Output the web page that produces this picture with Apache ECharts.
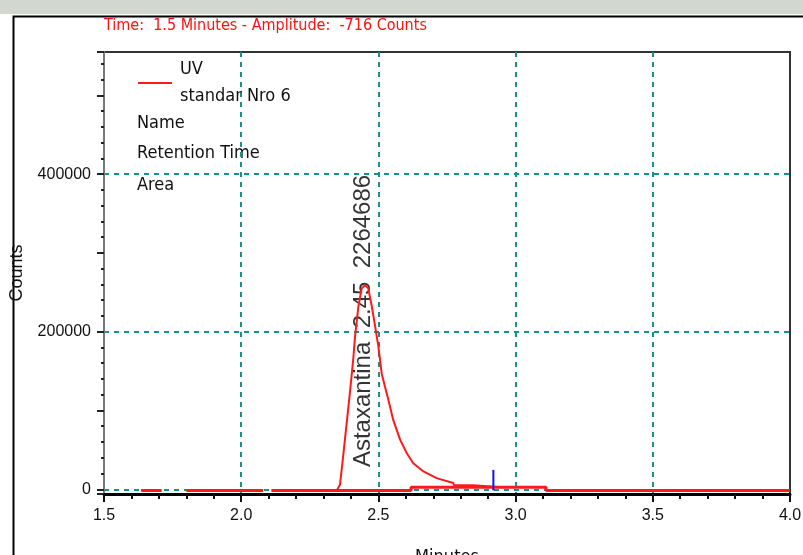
<!DOCTYPE html>
<html>
<head>
<meta charset="utf-8">
<script src="https://cdn.jsdelivr.net/npm/echarts@6/dist/echarts.min.js"></script>
<style>
  html, body { margin: 0; padding: 0; background: #fff; }
  #chart { width: 803px; height: 555px; }
</style>
</head>
<body>
<div id="chart"></div>
<script>
// minutes / counts
const baselineTrace = [
  [1.635, -1500], [1.71, -1500], [1.71, '-'],
  [1.80, -1500], [2.08, -1500], [2.08, '-'],
  [2.11, -1500], [2.619, -1500], [2.619, 2500], [3.111, 2500], [3.111, -1500], [4.0, -1500]
];
const peakTrace = [
  [2.348, -1500], [2.36, 5700], [2.37, 37000], [2.378, 63000], [2.396, 122000],
  [2.408, 164000], [2.415, 194000], [2.427, 232000], [2.439, 255000], [2.451, 259000],
  [2.463, 255000], [2.476, 232000], [2.488, 207000], [2.50, 181000], [2.512, 147000],
  [2.524, 130000], [2.536, 114000], [2.554, 88000], [2.579, 63000], [2.603, 46000],
  [2.627, 33000], [2.664, 22600], [2.712, 14200], [2.773, 7900], [2.775, 5200],
  [2.845, 5000], [2.85, 3000], [2.95, 2500]
];
const markerLine = [[2.919, -1500], [2.919, 24600]];
const peakLabel = [[2.444, 213600]];
const peakText = 'Astaxantina  2.45  2264686';
const legendLines = ['UV', 'standar Nro 6'];
const infoLines = ['Name', 'Retention Time', 'Area'];
const headerText = 'Time:  1.5 Minutes - Amplitude:  -716 Counts';

const narrow = "'Liberation Sans Narrow', 'Arial Narrow', 'DejaVu Sans Condensed', sans-serif";
const plain = "'Liberation Sans', Arial, sans-serif";
const teal = '#17918f';

const chart = echarts.init(document.getElementById('chart'));

const option = {
  backgroundColor: '#fff',
  animation: false,
  title: {
    text: headerText,
    left: 99, top: 13,
    textStyle: { color: '#ff1010', fontSize: 16, fontWeight: 'normal', fontFamily: narrow }
  },
  legend: {
    data: ['UV'],
    left: 138, top: 56,
    padding: 0,
    selectedMode: false,
    icon: 'rect',
    itemWidth: 34, itemHeight: 2,
    itemGap: 0,
    formatter: () => legendLines.join('\n'),
    textStyle: { fontSize: 18, lineHeight: 27, color: '#111', fontFamily: narrow, padding: [0, 0, 0, 3] }
  },
  graphic: [
    { type: 'rect', left: 0, top: 0, shape: { width: 803, height: 14 }, style: { fill: '#d2d8cf' }, z: -10 },
    { type: 'rect', left: 11, top: 14, shape: { x: 0, y: 0, width: 800, height: 600 },
      style: { fill: 'none', stroke: '#000', lineWidth: 2 }, z: -5 }
  ].concat(infoLines.map((t, i) => ({
    type: 'text', left: 137, top: [114, 144, 176][i],
    style: { text: t, fontSize: 18, fill: '#111', fontFamily: narrow }
  }))),
  grid: {
    left: 104, right: 13, top: 52, bottom: 61,
    outerBoundsMode: 'none', containLabel: false,
    show: true, borderColor: '#333', borderWidth: 2
  },
  xAxis: {
    type: 'value',
    min: 1.5, max: 4.0, interval: 0.5,
    name: 'Minutes', nameLocation: 'middle', nameGap: 54,
    nameTextStyle: { fontSize: 18, color: '#111', fontFamily: narrow },
    axisLine: { onZero: false, lineStyle: { color: '#000', width: 3 } },
    axisTick: { length: 8, lineStyle: { color: '#111', width: 2 } },
    minorTick: { show: true, splitNumber: 5, length: 5, lineStyle: { color: '#111', width: 2 } },
    axisLabel: { formatter: v => v.toFixed(1), fontSize: 16, color: '#111', margin: 14, fontFamily: plain },
    splitLine: { show: true, showMinLine: false, showMaxLine: false,
      lineStyle: { color: teal, width: 2, type: [5, 5] } }
  },
  yAxis: [
    {
      type: 'value', min: -6000, max: 555000, splitNumber: 5,
      name: 'Counts', nameLocation: 'middle', nameGap: 78,
      nameTextStyle: { fontSize: 18, color: '#111', fontFamily: plain },
      axisLine: { show: true, onZero: false, lineStyle: { color: '#777', width: 2 } },
      axisTick: { length: 7, lineStyle: { color: '#222', width: 2 } },
      minorTick: { show: true, splitNumber: 5, length: 3, lineStyle: { color: '#222', width: 2 } },
      axisLabel: {
        formatter: v => (v >= 0 && v % 200000 === 0) ? String(v) : '',
        fontSize: 16, color: '#111', margin: 13, fontFamily: plain
      },
      splitLine: { show: false }
    },
    {
      type: 'value', min: -6000, max: 555000, splitNumber: 3, position: 'left',
      axisLine: { show: false }, axisTick: { show: false }, axisLabel: { show: false },
      splitLine: { show: true, showMinLine: false, showMaxLine: false,
        lineStyle: { color: teal, width: 2, type: [5, 5] } }
    }
  ],
  series: [
    {
      name: 'UV', type: 'line', data: baselineTrace, showSymbol: false, connectNulls: false,
      lineStyle: { color: '#ff1a1a', width: 3 }, itemStyle: { color: '#ff1a1a' }
    },
    {
      name: 'UV', type: 'line', data: peakTrace, showSymbol: false,
      lineStyle: { color: '#ff1a1a', width: 2 }, itemStyle: { color: '#ff1a1a' }
    },
    {
      name: 'marker', type: 'line', data: markerLine, showSymbol: false,
      lineStyle: { color: '#1010ff', width: 2 }
    },
    {
      name: 'peak', type: 'scatter', data: peakLabel, symbolSize: 0,
      label: {
        show: true, position: 'inside', rotate: 90,
        formatter: () => peakText,
        fontSize: 24, color: '#000', fontFamily: plain
      }
    }
  ]
};

chart.setOption(option);
</script>
</body>
</html>
